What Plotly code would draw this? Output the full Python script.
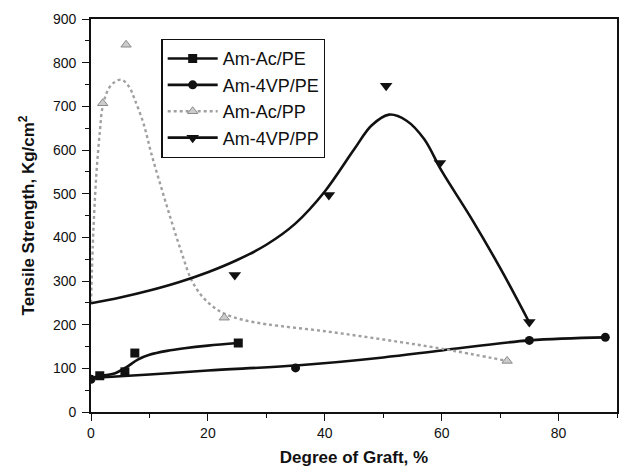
import plotly.graph_objects as go

# ---- data ----
# measured points
pe_ac_x = [1.5, 5.8, 7.5, 25.2]
pe_ac_y = [83, 92, 135, 158]
pe_4vp_x = [0, 35, 75, 88]
pe_4vp_y = [75, 101, 164, 171]
pp_ac_x = [2, 6, 22.8, 71.2]
pp_ac_y = [707, 841, 216, 117]
pp_4vp_x = [24.6, 40.7, 50.5, 59.7, 75]
pp_4vp_y = [314, 497, 747, 570, 206]

# fitted (smoothed) curves
pe_ac_fit_x = [0, 2, 4, 6, 8, 10, 13, 16, 20, 25.2]
pe_ac_fit_y = [78, 83, 88, 102, 120, 131, 140, 146, 152, 158]
pe_4vp_fit_x = [0, 10, 20, 35.6, 50, 60, 75, 88]
pe_4vp_fit_y = [78, 86, 95, 107, 125, 141, 164, 171]
pp_ac_fit_x = [0, 0.3, 0.6, 1, 1.5, 2, 3, 4, 5.2, 6.5, 7.5, 9, 10.3, 12, 13.7, 15.5, 17.2, 19, 21, 23, 26, 30,
               40, 50, 60, 71.2]
pp_ac_fit_y = [250, 380, 470, 560, 640, 700, 740, 755, 761, 745, 715, 660, 593, 515, 440, 365, 302, 265, 240,
               224, 211, 201, 185, 166, 145, 117]
pp_4vp_fit_x = [0, 5, 10, 15, 20, 25, 30, 35, 40, 45, 48, 51, 54, 57, 60, 65, 70, 75]
pp_4vp_fit_y = [249, 262, 278, 297, 320, 348, 383, 432, 505, 601, 656, 681, 667, 625, 552, 445, 330, 205]

series_names = ["Am-Ac/PE", "Am-4VP/PE", "Am-Ac/PP", "Am-4VP/PP"]

FONT = "Liberation Sans, Arial, sans-serif"
BLACK = "#111111"
GRAY = "#a0a0a0"

styles = [
    dict(line=dict(color=BLACK, width=2.6), marker=dict(symbol="square", size=9, color=BLACK)),
    dict(line=dict(color=BLACK, width=2.6), marker=dict(symbol="circle", size=9, color=BLACK)),
    dict(line=dict(color=GRAY, width=2.4, dash="dot"),
         marker=dict(symbol="triangle-up", size=9, color="#cccccc", line=dict(color="#8a8a8a", width=1))),
    dict(line=dict(color=BLACK, width=2.6), marker=dict(symbol="triangle-down", size=11, color=BLACK)),
]

fits = [(pe_ac_fit_x, pe_ac_fit_y), (pe_4vp_fit_x, pe_4vp_fit_y),
        (pp_ac_fit_x, pp_ac_fit_y), (pp_4vp_fit_x, pp_4vp_fit_y)]
pts = [(pe_ac_x, pe_ac_y), (pe_4vp_x, pe_4vp_y), (pp_ac_x, pp_ac_y), (pp_4vp_x, pp_4vp_y)]

fig = go.Figure()
for name, st, (fx, fy), (px, py) in zip(series_names, styles, fits, pts):
    fig.add_trace(go.Scatter(x=fx, y=fy, mode="lines", line=dict(**st["line"], shape="spline", smoothing=1.0),
                             showlegend=False, legendgroup=name, hoverinfo="skip"))
    fig.add_trace(go.Scatter(x=px, y=py, mode="markers", marker=st["marker"],
                             showlegend=False, legendgroup=name))
    fig.add_trace(go.Scatter(x=[None], y=[None], mode="lines+markers", name=name,
                             line=st["line"], marker=st["marker"], legendgroup=name))

axis_common = dict(
    showline=True, linecolor=BLACK, linewidth=1.6, mirror=True,
    ticks="outside", ticklen=7, tickwidth=1.4, tickcolor=BLACK,
    showgrid=False, zeroline=False,
    tickfont=dict(family=FONT, size=14, color=BLACK),
)

fig.update_xaxes(range=[0, 90], tick0=0, dtick=20,
                 minor=dict(dtick=10, ticks="outside", ticklen=4, tickcolor=BLACK, tickwidth=1.2, showgrid=False),
                 title=dict(text="<b>Degree of Graft, %</b>", font=dict(family=FONT, size=17, color=BLACK), standoff=12),
                 **axis_common)
fig.update_yaxes(range=[0, 900], tick0=0, dtick=100,
                 minor=dict(dtick=50, ticks="outside", ticklen=4, tickcolor=BLACK, tickwidth=1.2, showgrid=False),
                 title=dict(text="<b>Tensile Strength, Kg/cm<sup>2</sup></b>", font=dict(family=FONT, size=17, color=BLACK), standoff=14),
                 ticklabelstandoff=3,
                 **axis_common)

fig.update_layout(
    width=622, height=471,
    margin=dict(l=91, r=3, t=19, b=59),
    paper_bgcolor="white", plot_bgcolor="white",
    showlegend=True,
    legend=dict(x=0.134, y=0.949, xanchor="left", yanchor="top",
                bgcolor="white", bordercolor=BLACK, borderwidth=1.2,
                font=dict(family=FONT, size=18, color=BLACK),
                itemwidth=50, tracegroupgap=0),
)

fig.write_html("out.html")
